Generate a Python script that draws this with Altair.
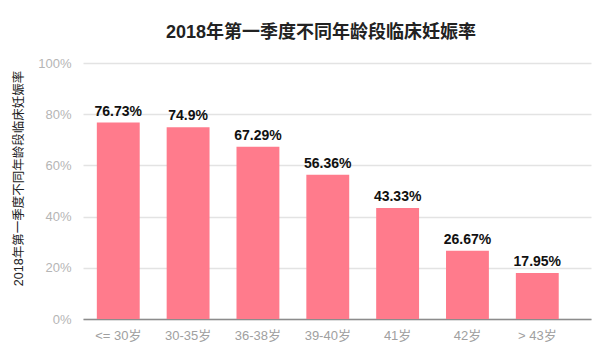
import altair as alt
import pandas as pd

categories = ["<= 30岁", "30-35岁", "36-38岁", "39-40岁", "41岁", "42岁", "> 43岁"]
rates = [76.73, 74.9, 67.29, 56.36, 43.33, 26.67, 17.95]
labels = ["76.73%", "74.9%", "67.29%", "56.36%", "43.33%", "26.67%", "17.95%"]

df = pd.DataFrame({"age": categories, "rate": rates, "label": labels})

FONT = "Liberation Sans, Helvetica, Arial, Noto Sans CJK SC"

x = alt.X(
    "age:N",
    sort=categories,
    scale=alt.Scale(paddingInner=0.386, paddingOuter=0.33, align=0.3),
    axis=alt.Axis(
        title=None, labelAngle=0, labelColor="#a0a0a0", labelFontSize=13,
        labelPadding=10, ticks=False, domain=True, domainColor="#8c8c8c",
        domainWidth=1.5, labelFont=FONT,
    ),
)
y = alt.Y(
    "rate:Q",
    scale=alt.Scale(domain=[0, 100]),
    axis=alt.Axis(
        values=[0, 20, 40, 60, 80, 100], labelExpr="datum.value + '%'",
        title="2018年第一季度不同年龄段临床妊娠率", titleFontSize=12.5,
        titleFontWeight="normal", titleColor="#222222", titleFont=FONT,
        titleX=-65, titleY=115, titleAlign="center", titleBaseline="middle",
        titleAngle=-90,
        labelColor="#b5b5b5", labelFontSize=13, labelPadding=12, labelFont=FONT,
        ticks=False, domain=False, gridColor="#e3e3e3", gridWidth=1.5,
    ),
)

bars = alt.Chart(df).mark_bar(color="#FF7B8C").encode(x=x, y=y)
text = alt.Chart(df).mark_text(
    dy=-4, baseline="bottom", fontSize=14, fontWeight="bold", color="#111111", font=FONT
).encode(x=alt.X("age:N", sort=categories), y="rate:Q", text="label:N")

chart = (bars + text).properties(
    width=508, height=256,
    autosize=alt.AutoSizeParams(type="none"),
    padding={"left": 75, "top": 55, "right": 1, "bottom": 30},
    title=alt.TitleParams(
        "2018年第一季度不同年龄段临床妊娠率", fontSize=18, fontWeight="bold",
        color="#222222", font=FONT, anchor="middle", dx=-16, offset=15,
    ),
).configure_view(stroke=None)

chart.save("out.html", embed_options={"renderer": "svg", "actions": False})
